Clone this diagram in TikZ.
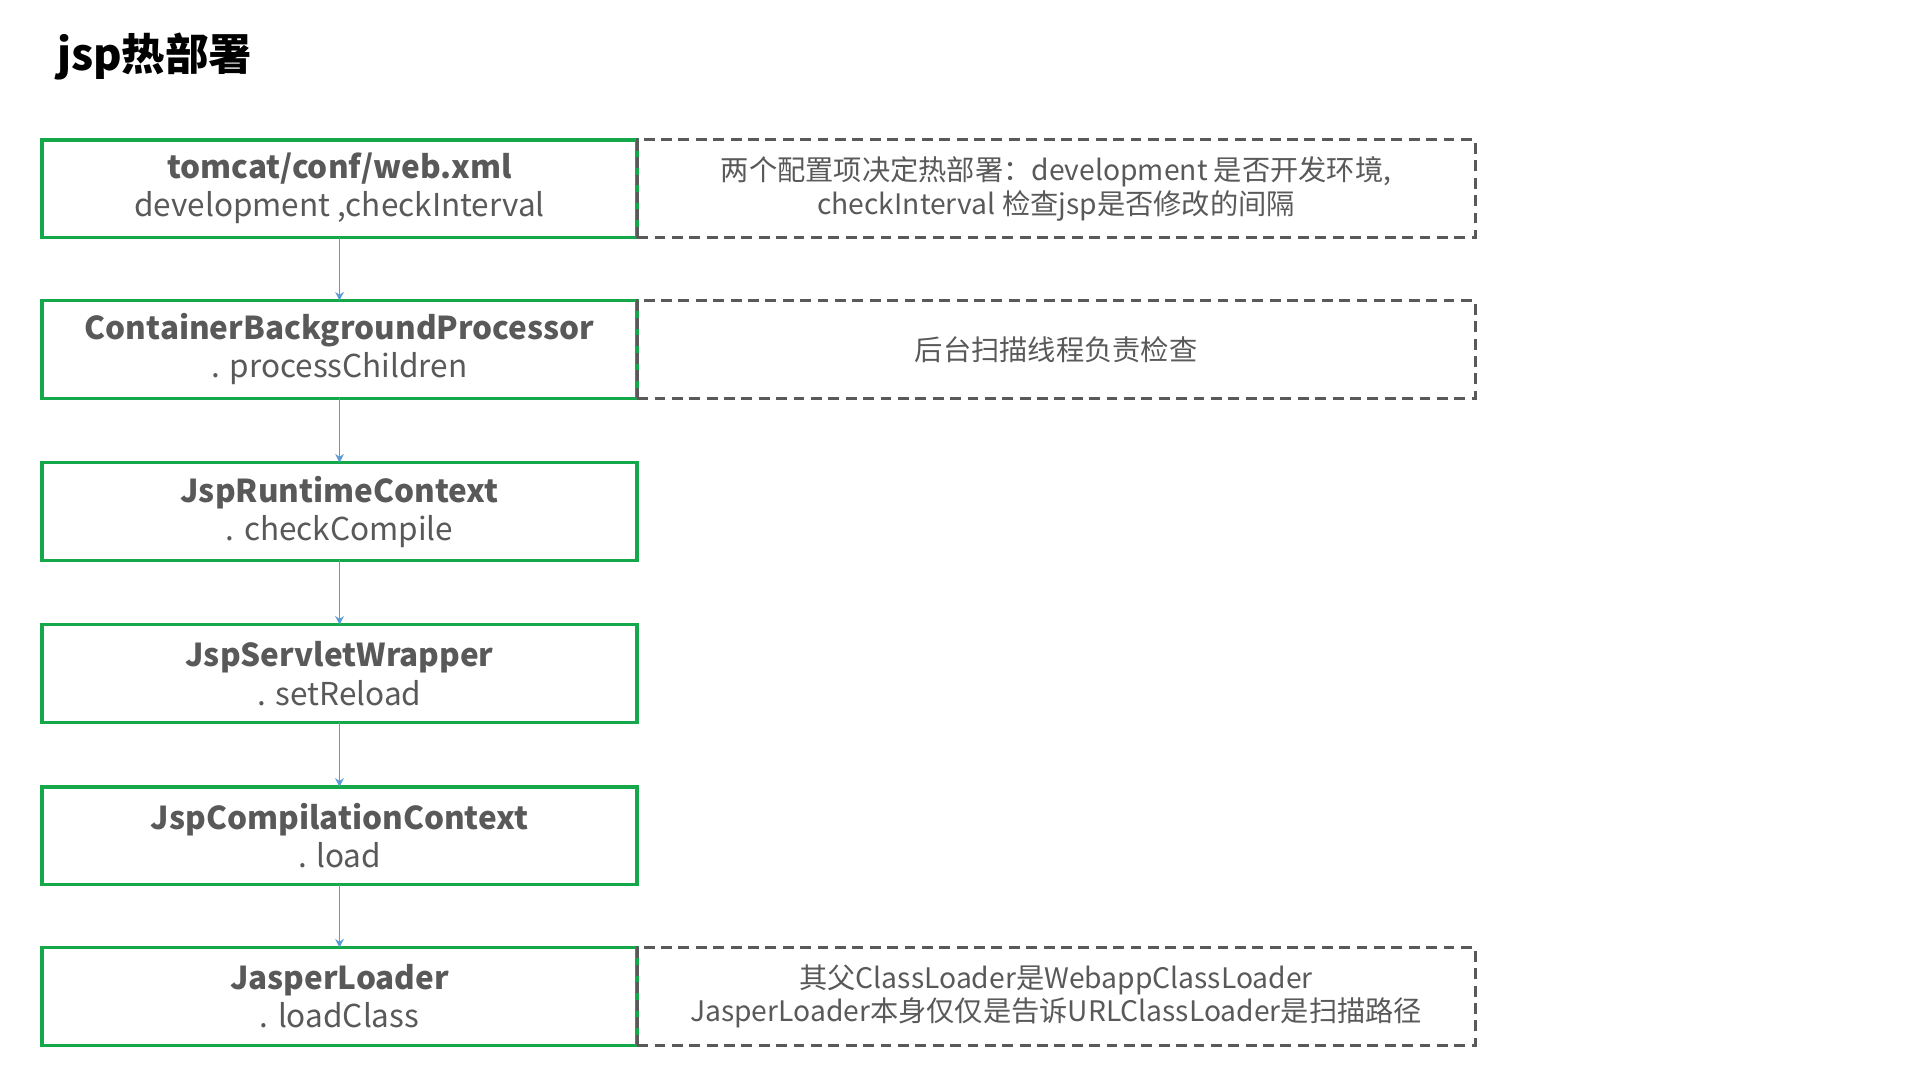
\documentclass[tikz,border=0pt]{standalone}
\usepackage{fontspec}
\setmainfont{Noto Sans CJK SC}
\usetikzlibrary{arrows.meta}
\definecolor{gr}{HTML}{14A84A}
\definecolor{tx}{HTML}{595959}
\definecolor{ar}{HTML}{5B9BD5}
\begin{document}
\begin{tikzpicture}[x=0.02cm,y=-0.02cm,
 mainbox/.style={draw=gr,line width=1.6pt,minimum width=9.62cm,minimum height=1.58cm,anchor=north west,outer sep=0pt,inner sep=0pt,align=center,text=tx,font=\fontsize{14.5}{17.5}\selectfont},
 notebox/.style={draw=tx,dashed,dash pattern=on 5pt off 3pt,line width=1.4pt,minimum width=13.55cm,minimum height=1.58cm,anchor=north west,outer sep=0pt,inner sep=0pt,align=center,text=tx,font=\fontsize{13}{15.5}\selectfont},
 conn/.style={draw=ar,line width=0.6pt,-{Stealth[length=4pt,width=4pt]}}]
\useasboundingbox (0,0) rectangle (1552,873);
\node[anchor=west,font=\fontsize{20}{24}\selectfont\bfseries] (title) at (40,46) {jsp热部署};
\node[mainbox] (b1) at (34,113) {\textbf{tomcat/conf/web.xml}\\development ,checkInterval};
\node[mainbox] (b2) at (34,243) {\textbf{ContainerBackgroundProcessor}\\. processChildren};
\node[mainbox] (b3) at (34,374) {\textbf{JspRuntimeContext}\\. checkCompile};
\node[mainbox] (b4) at (34,505) {\textbf{JspServletWrapper}\\. setReload};
\node[mainbox] (b5) at (34,636) {\textbf{JspCompilationContext}\\. load};
\node[mainbox] (b6) at (34,766) {\textbf{JasperLoader}\\. loadClass};
\node[notebox] (n1) at (515,113) {两个配置项决定热部署：development 是否开发环境,\\checkInterval 检查jsp是否修改的间隔};
\node[notebox] (n2) at (515,243) {后台扫描线程负责检查};
\node[notebox] (n6) at (515,766) {其父ClassLoader是WebappClassLoader\\JasperLoader本身仅仅是告诉URLClassLoader是扫描路径};
\draw[conn] (b1) -- (b2);
\draw[conn] (b2) -- (b3);
\draw[conn] (b3) -- (b4);
\draw[conn] (b4) -- (b5);
\draw[conn] (b5) -- (b6);
\end{tikzpicture}
\end{document}
